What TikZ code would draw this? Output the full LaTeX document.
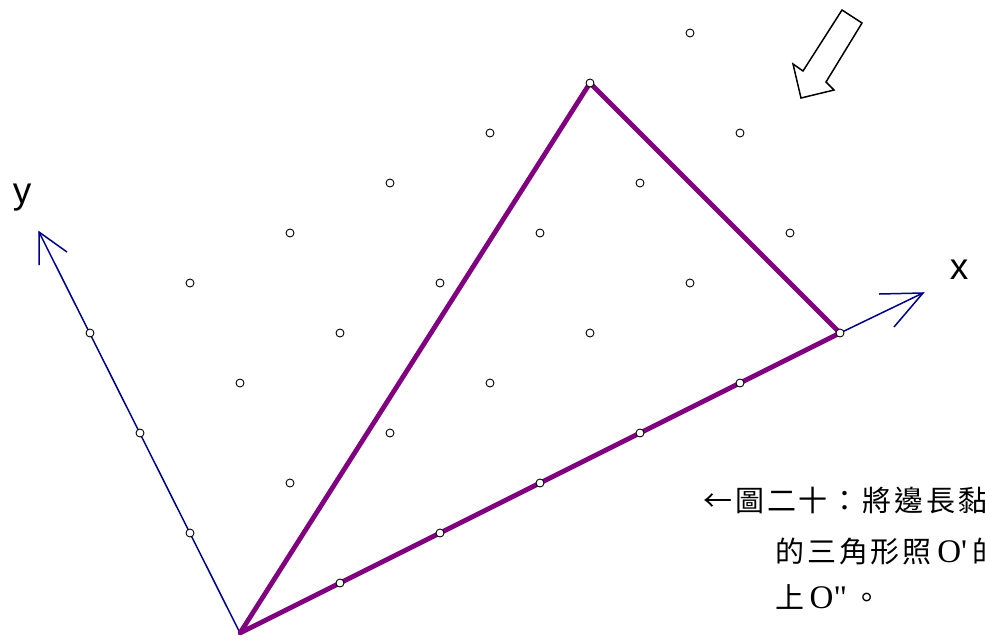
\documentclass[tikz,border=0pt]{standalone}
\usepackage{fontspec}
\setmainfont{Liberation Serif}
\newfontfamily\cjk[LetterSpace=10]{Noto Sans CJK TC}
\newfontfamily\lat{Liberation Serif}
\newfontfamily\axf{Liberation Sans}
\definecolor{tri}{RGB}{128,0,128}
\definecolor{ax}{RGB}{0,0,140}
\begin{document}
\begin{tikzpicture}[x=1pt,y=-1pt,
  dot/.style={circle,draw=black,fill=white,line width=0.9pt,inner sep=0pt,minimum size=8pt},
  axis/.style={draw=ax,line width=1.5pt},
  triline/.style={draw=tri,line width=4.8pt,line join=round,line cap=round},
  lbl/.style={inner sep=0pt,anchor=west,font=\cjk\fontsize{29}{32}\selectfont}]
\useasboundingbox (0,0) rectangle (985,641);
\clip (0,0) rectangle (985,641);
% coordinates
\coordinate (O) at (240,633);
\coordinate (X6) at (840,333);
\coordinate (A) at (590,83);
\coordinate (xt) at (923,293);
\coordinate (xw1) at (879,294);
\coordinate (xw2) at (894,327);
\coordinate (yt) at (39,232);
\coordinate (yw1) at (39,265);
\coordinate (yw2) at (67,252);
% axes
\draw[axis] (O) -- (yt);
\draw[axis] (X6) -- (xt);
\draw[axis] (xw1) -- (xt) -- (xw2);
\draw[axis] (yw1) -- (yt) -- (yw2);
% triangle
\draw[triline] (O) -- (X6) -- (A) -- cycle;
% lattice dots
\foreach \i/\j in {1/0,2/0,3/0,4/0,5/0,6/0,0/1,0/2,0/3,
  1/1,1/2,1/3,2/1,2/2,2/3,3/1,3/2,3/3,4/1,4/2,4/3,5/1,5/2,5/3,6/1,6/2,6/3}
  \node[dot] (p\i\j) at (240+100*\i-50*\j, 633-50*\i-100*\j) {};
% hollow arrow
\draw[line width=1.5pt,line join=miter,fill=white]
  (842,10) -- (862,23) -- (826,82) -- (834,90) -- (801,98) -- (793,64) -- (803,71) -- cycle;
% axis labels
\node[inner sep=0pt,font=\axf\fontsize{37}{40}\selectfont] (xl) at (959,270) {x};
\node[inner sep=0pt,font=\axf\fontsize{37}{40}\selectfont] (yl) at (22,198) {y};
% caption
\node[lbl] (c1) at (703,500) {←圖二十：將邊長黏};
\node[lbl] (c2) at (775,551) {的三角形照{\lat\fontsize{33}{33}\selectfont\,O'\,}的};
\node[lbl] (c3) at (775,597) {上{\lat\fontsize{33}{33}\selectfont\,O"\,}。};
\end{tikzpicture}
\end{document}
